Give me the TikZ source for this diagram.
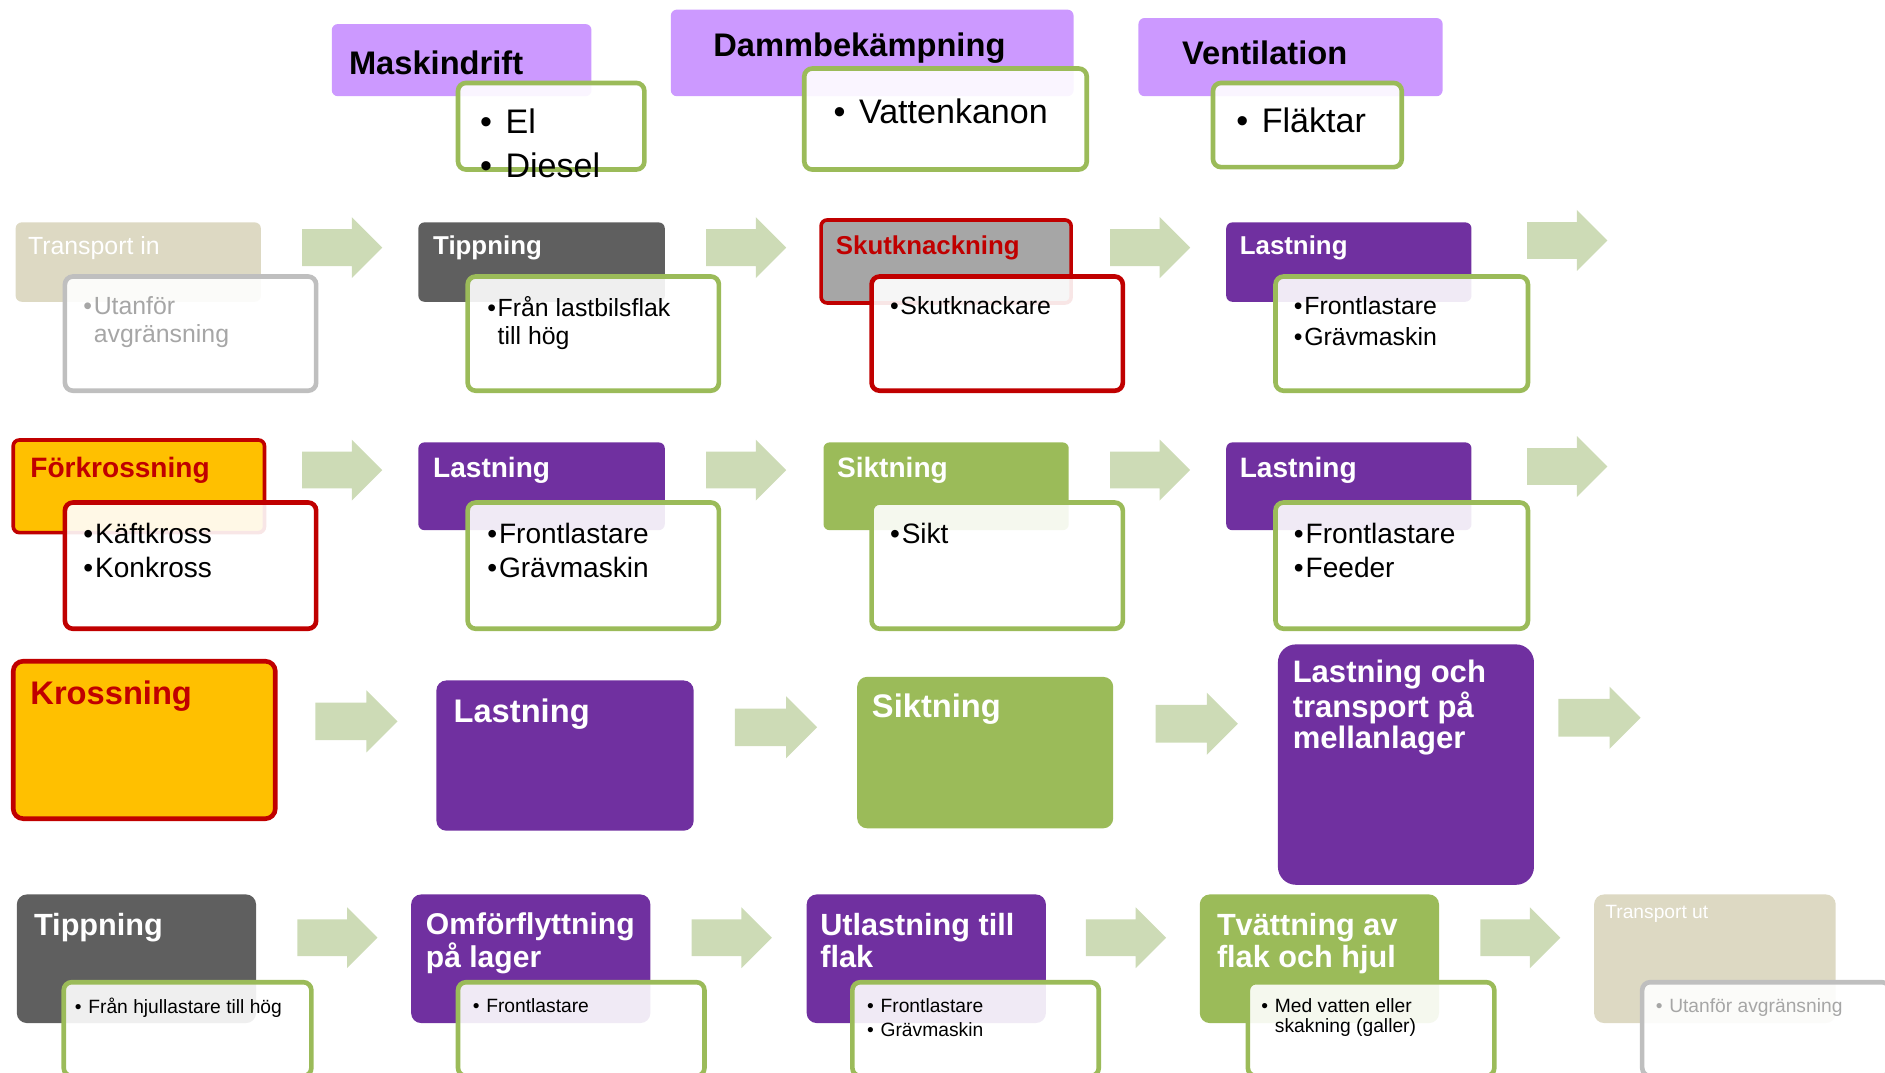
\documentclass[tikz,border=0pt]{standalone}
\usepackage{fontspec}
\setmainfont{Liberation Sans}
\usetikzlibrary{fit,shapes.arrows}
\definecolor{lilac}{HTML}{CC99FF}
\definecolor{deeppurple}{HTML}{7030A0}
\definecolor{leafgreen}{HTML}{9BBB59}
\definecolor{arrowgreen}{HTML}{CDDBB6}
\definecolor{slate}{HTML}{5F5F5F}
\definecolor{midgray}{HTML}{A6A6A6}
\definecolor{brickred}{HTML}{C00000}
\definecolor{amber}{HTML}{FFC000}
\definecolor{sand}{HTML}{DDD9C3}
\definecolor{ashgray}{HTML}{BFBFBF}
\newcommand{\bul}[1][0.42em]{\makebox[#1][l]{•}}
\newcommand{\cont}[1][0.42em]{\hspace*{#1}}
\tikzset{
    stage/.style={
        rectangle,
        rounded corners=3pt,
        inner sep=0pt
    },
    detail/.style={
        rectangle,
        rounded corners=4pt,
        inner sep=0pt,
        draw=leafgreen,
        line width=2.3pt,
        fill=white,
        fill opacity=0.9
    },
    flow/.style={
        single arrow,
        anchor=tail,
        fill=arrowgreen,
        inner xsep=0pt,
        inner ysep=9pt,
        minimum height=40pt,
        minimum width=30pt,
        single arrow head extend=6pt,
        single arrow tip angle=90
    },
    txt/.style={anchor=north west, inner sep=0pt, align=left},
    small/.style={txt, font=\fontsize{12.4}{14}\selectfont},
    smallbf/.style={txt, font=\bfseries\fontsize{12.9}{14}\selectfont},
    mid/.style={txt, font=\fontsize{14}{16.8}\selectfont},
    midbf/.style={txt, font=\bfseries\fontsize{14}{16}\selectfont},
    big/.style={txt, font=\fontsize{17}{21}\selectfont},
    bigbf/.style={txt, font=\bfseries\fontsize{16.3}{16}\selectfont},
    tiny/.style={txt, font=\fontsize{9.6}{12}\selectfont}
}

\begin{document}
\begin{tikzpicture}[x=0.6pt, y=-0.6pt]
\useasboundingbox (0,0) rectangle (1568,892);

% top: resources
\node[stage, fill=lilac, fit={(276,20) (492,80)}] (mask) {};
\node[bigbf] (mask-t) at (290,42) {Maskindrift};
\node[detail, fit={(381,69) (536,141)}] (mask-d) {};
\node[big] (mask-dt) at (399,90) {\bul[0.75em]El\\[1pt]\bul[0.75em]Diesel};

\node[stage, fill=lilac, fit={(558,8) (893,80)}] (damm) {};
\node[bigbf] (damm-t) at (593,27) {Dammbekämpning};
\node[detail, fit={(669,57) (904,141)}] (damm-d) {};
\node[big] (damm-dt) at (693,82) {\bul[0.75em]Vattenkanon};

\node[stage, fill=lilac, fit={(947,15) (1200,80)}] (vent) {};
\node[bigbf] (vent-t) at (983,34) {Ventilation};
\node[detail, fit={(1009,69) (1166,139)}] (vent-d) {};
\node[big] (vent-dt) at (1028,89) {\bul[0.75em]Fläktar};

% row 1
\node[stage, fill=sand, fit={(13,185) (217,251)}] (tin) {};
\node[small, text=white] (tin-t) at (23,196) {Transport in};
\node[detail, draw=ashgray, fit={(54,230) (263,325)}] (tin-d) {};
\node[small, text=midgray] (tin-dt) at (69,246) {\bul Utanför\\\cont avgränsning};
\node[flow] (f11) at (251,206) {};

\node[stage, fill=slate, fit={(348,185) (553,251)}] (tip) {};
\node[smallbf, text=white] (tip-t) at (360,196) {Tippning};
\node[detail, fit={(389,230) (598,325)}] (tip-d) {};
\node[small] (tip-dt) at (405,246) {\bul Från lastbilsflak\\\cont till hög};
\node[flow] (f12) at (587,206) {};

\node[stage, fill=midgray, draw=brickred, line width=1.8pt, fit={(683,183) (891,252)}] (skut) {};
\node[smallbf, text=brickred] (skut-t) at (695,196) {Skutknackning};
\node[detail, draw=brickred, fit={(725,230) (934,325)}] (skut-d) {};
\node[small] (skut-dt) at (740,246) {\bul Skutknackare};
\node[flow] (f13) at (923,206) {};

\node[stage, fill=deeppurple, fit={(1020,185) (1224,251)}] (last1) {};
\node[smallbf, text=white] (last1-t) at (1031,196) {Lastning};
\node[detail, fit={(1061,230) (1271,325)}] (last1-d) {};
\node[small] (last1-dt) at (1076,246) {\bul Frontlastare\\[1.6pt]\bul Grävmaskin};
\node[flow] (f14) at (1270,200) {};

% row 2
\node[stage, fill=amber, draw=brickred, line width=1.8pt, fit={(11,366) (220,443)}] (fkr) {};
\node[midbf, text=brickred] (fkr-t) at (25,380) {Förkrossning};
\node[detail, draw=brickred, fit={(54,418) (263,523)}] (fkr-d) {};
\node[mid] (fkr-dt) at (69,435) {\bul Käftkross\\\bul Konkross};
\node[flow] (f21) at (251,391) {};

\node[stage, fill=deeppurple, fit={(348,368) (553,441)}] (last2) {};
\node[midbf, text=white] (last2-t) at (360,380) {Lastning};
\node[detail, fit={(389,418) (598,523)}] (last2-d) {};
\node[mid] (last2-dt) at (405,435) {\bul Frontlastare\\\bul Grävmaskin};
\node[flow] (f22) at (587,391) {};

\node[stage, fill=leafgreen, fit={(685,368) (889,441)}] (sikt1) {};
\node[midbf, text=white] (sikt1-t) at (696,380) {Siktning};
\node[detail, fit={(725,418) (934,523)}] (sikt1-d) {};
\node[mid] (sikt1-dt) at (740,435) {\bul Sikt};
\node[flow] (f23) at (923,391) {};

\node[stage, fill=deeppurple, fit={(1020,368) (1224,441)}] (last3) {};
\node[midbf, text=white] (last3-t) at (1031,380) {Lastning};
\node[detail, fit={(1061,418) (1271,523)}] (last3-d) {};
\node[mid] (last3-dt) at (1076,435) {\bul Frontlastare\\\bul Feeder};
\node[flow] (f24) at (1270,388) {};

% row 3
\node[stage, rounded corners=5pt, fill=amber, draw=brickred, line width=2.3pt, fit={(11,550) (229,681)}] (kr) {};
\node[bigbf, text=brickred] (kr-t) at (25,566) {Krossning};
\node[flow, minimum height=41pt, minimum width=31pt] (f31) at (262,600) {};

\node[stage, rounded corners=5pt, fill=deeppurple, fit={(363,566) (577,691)}] (last4) {};
\node[bigbf, text=white] (last4-t) at (377,581) {Lastning};
\node[flow, minimum height=41pt, minimum width=31pt] (f32) at (611,605) {};

\node[stage, rounded corners=5pt, fill=leafgreen, fit={(713,563) (926,689)}] (sikt2) {};
\node[bigbf, text=white] (sikt2-t) at (725,577) {Siktning};
\node[flow, minimum height=41pt, minimum width=31pt] (f33) at (961,602) {};

\node[stage, rounded corners=9pt, fill=deeppurple, fit={(1063,536) (1276,736)}] (mell) {};
\node[bigbf, text=white, font=\bfseries\fontsize{15.5}{15.9}\selectfont] (mell-t) at (1075,549) {Lastning och\\transport på\\mellanlager};
\node[flow, minimum height=41pt, minimum width=31pt] (f34) at (1296,597) {};

% row 4
\node[stage, rounded corners=5pt, fill=slate, fit={(14,744) (213,851)}] (tip2) {};
\node[bigbf, text=white, font=\bfseries\fontsize{15.3}{16}\selectfont] (tip2-t) at (28,759) {Tippning};
\node[detail, fit={(53,817) (259,895)}] (tip2-d) {};
\node[tiny] (tip2-dt) at (62,830) {\bul[0.7em]Från hjullastare till hög};
\node[flow] (f41) at (247,780) {};

\node[stage, rounded corners=5pt, fill=deeppurple, fit={(342,744) (541,851)}] (omf) {};
\node[bigbf, text=white, font=\bfseries\fontsize{15}{15.5}\selectfont] (omf-t) at (354,759) {Omförflyttning\\på lager};
\node[detail, fit={(381,817) (586,895)}] (omf-d) {};
\node[tiny] (omf-dt) at (393,830) {\bul[0.7em]Frontlastare};
\node[flow] (f42) at (575,780) {};

\node[stage, rounded corners=5pt, fill=deeppurple, fit={(671,744) (870,851)}] (utl) {};
\node[bigbf, text=white, font=\bfseries\fontsize{15.3}{16.2}\selectfont] (utl-t) at (682,759) {Utlastning till\\flak};
\node[detail, fit={(709,817) (914,895)}] (utl-d) {};
\node[tiny] (utl-dt) at (721,830) {\bul[0.7em]Frontlastare\\\bul[0.7em]Grävmaskin};
\node[flow] (f43) at (903,780) {};

\node[stage, rounded corners=5pt, fill=leafgreen, fit={(998,744) (1197,851)}] (tvatt) {};
\node[bigbf, text=white, font=\bfseries\fontsize{15.3}{16.2}\selectfont] (tvatt-t) at (1012,759) {Tvättning av\\flak och hjul};
\node[detail, fit={(1038,817) (1243,895)}] (tvatt-d) {};
\node[tiny, font=\fontsize{9.6}{10.2}\selectfont] (tvatt-dt) at (1049,830) {\bul[0.7em]Med vatten eller\\\cont[0.7em]skakning (galler)};
\node[flow] (f44) at (1231,780) {};

\node[stage, rounded corners=5pt, fill=sand, fit={(1326,744) (1527,851)}] (tut) {};
\node[tiny, text=white] (tut-t) at (1335,753) {Transport ut};
\node[detail, draw=ashgray, fit={(1366,817) (1572,895)}] (tut-d) {};
\node[tiny, text=midgray] (tut-dt) at (1377,830) {\bul[0.7em]Utanför avgränsning};
\end{tikzpicture}
\end{document}
